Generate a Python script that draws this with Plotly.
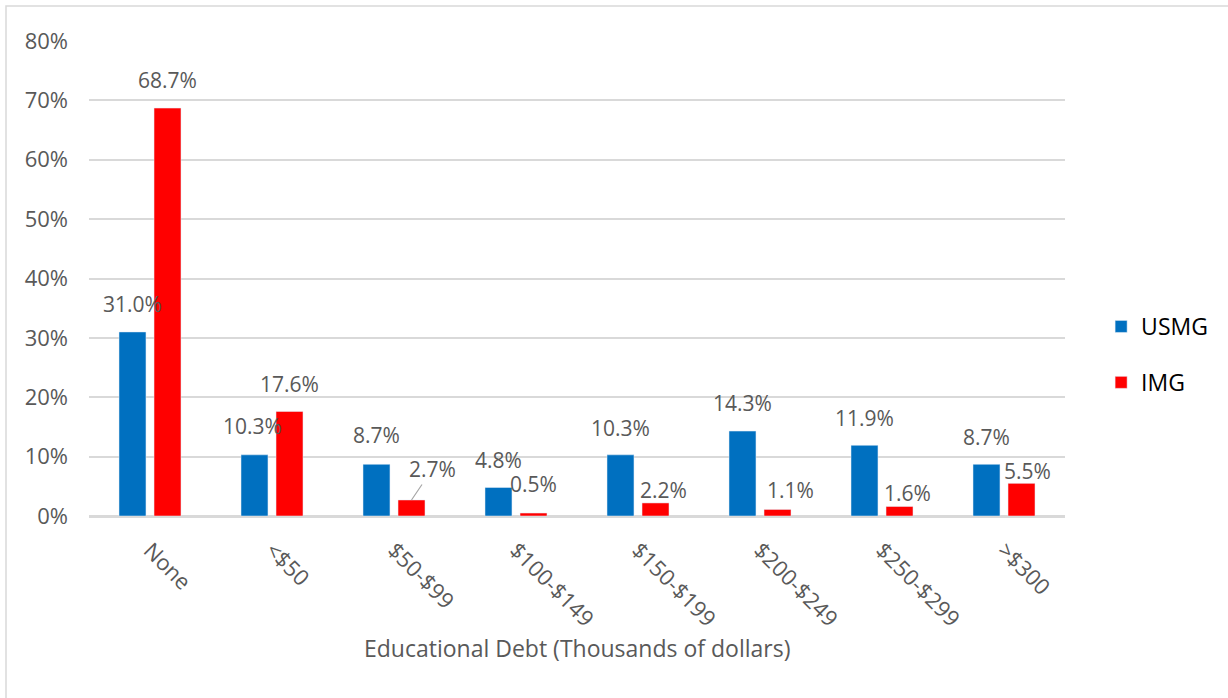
import plotly.graph_objects as go

# Educational debt brackets (thousands of dollars)
categories = ["None", "<$50", "$50-$99", "$100-$149", "$150-$199",
              "$200-$249", "$250-$299", ">$300"]
usmg = [0.310, 0.103, 0.087, 0.048, 0.103, 0.143, 0.119, 0.087]
img = [0.687, 0.176, 0.027, 0.005, 0.022, 0.011, 0.016, 0.055]
y_ticks = [0.0, 0.1, 0.2, 0.3, 0.4, 0.5, 0.6, 0.7, 0.8]

BLUE = "#0070C0"
RED = "#FF0000"
GRID = "#D9D9D9"
TEXT = "#595959"
FONT = "Open Sans"

W, H = 1228, 698
ML, MR, MT, MB = 89, 163, 41, 182
PW, PH = W - ML - MR, H - MT - MB
Y0 = MT + PH  # pixel row of the 0% baseline

# half distance between the two bars of a group, in pixels
BAR_OFF = 17.5

# label placement (pixel offsets of label centre from bar top)
usmg_dx = [0, -2, 0, 0, 0, 0, 0, 0]
usmg_dy = [-28, -29, -29, -28, -27, -28, -27, -27]
img_dx = [0, 0, 21, 0, 8, 13, 8, 6]
img_dy = [-28, -28, -31, -29, -13, -19, -14, -12]
img_leader = [False, False, True, False, False, False, False, False]

LABEL_FONT = dict(family=FONT, size=21, color=TEXT)

fig = go.Figure()
fig.add_trace(go.Bar(x=categories, y=usmg, name="USMG", marker_color=BLUE,
                     legendgroup="a"))
fig.add_trace(go.Bar(x=categories, y=img, name="IMG", marker_color=RED,
                     legendgroup="b"))

annotations = []
for i, cat in enumerate(categories):
    annotations.append(dict(
        x=cat, y=usmg[i], xref="x", yref="y", text=f"{usmg[i]*100:.1f}%",
        showarrow=False, xshift=-BAR_OFF + usmg_dx[i], yshift=-usmg_dy[i],
        xanchor="center", yanchor="middle", font=LABEL_FONT))
    if img_leader[i]:
        annotations.append(dict(
            x=cat, y=img[i], xref="x", yref="y", text=f"{img[i]*100:.1f}%",
            showarrow=True, arrowhead=0, arrowwidth=1.2, arrowcolor="#A6A6A6",
            ax=img_dx[i], ay=img_dy[i], xshift=BAR_OFF, standoff=0,
            font=LABEL_FONT))
    else:
        annotations.append(dict(
            x=cat, y=img[i], xref="x", yref="y", text=f"{img[i]*100:.1f}%",
            showarrow=False, xshift=BAR_OFF + img_dx[i], yshift=-img_dy[i],
            xanchor="center", yanchor="middle", font=LABEL_FONT))

# x-axis title
annotations.append(dict(
    x=0.5, y=(Y0 - 648) / PH, xref="paper", yref="paper",
    text="Educational Debt (Thousands of dollars)", showarrow=False,
    xanchor="center", yanchor="middle",
    font=dict(family=FONT, size=23, color=TEXT)))

# light outer frame of the chart area
shapes = [dict(type="rect", xref="paper", yref="paper",
               x0=(6 - ML) / PW, x1=(W + 10 - ML) / PW,
               y0=(Y0 - (H + 10)) / PH, y1=(Y0 - 6) / PH,
               line=dict(color=GRID, width=1.5), fillcolor="rgba(0,0,0,0)",
               layer="below")]

fig.update_layout(
    width=W, height=H,
    margin=dict(l=ML, r=MR, t=MT, b=MB, autoexpand=False),
    paper_bgcolor="white", plot_bgcolor="white",
    barmode="group", bargap=0.426, bargroupgap=0.23,
    font=dict(family=FONT, color=TEXT),
    showlegend=True,
    legend=dict(x=1.037, y=0.34, xanchor="left", yanchor="middle",
                font=dict(family=FONT, size=23, color="#000000"),
                tracegroupgap=23, bgcolor="rgba(0,0,0,0)"),
    annotations=annotations,
    shapes=shapes,
)
fig.update_xaxes(
    type="category", tickangle=45, showgrid=False, showline=True,
    linecolor=GRID, linewidth=1.5, ticks="", ticklabelstandoff=11,
    tickfont=dict(family=FONT, size=22, color=TEXT),
)
fig.update_yaxes(
    range=[0, 0.8], tickvals=y_ticks, tickformat=".0%",
    showgrid=True, gridcolor=GRID, gridwidth=1.5, zeroline=True,
    zerolinecolor=GRID, zerolinewidth=1.5, showline=False, ticks="",
    ticklabelstandoff=20,
    tickfont=dict(family=FONT, size=22, color=TEXT),
)

fig.write_html("out.html")
